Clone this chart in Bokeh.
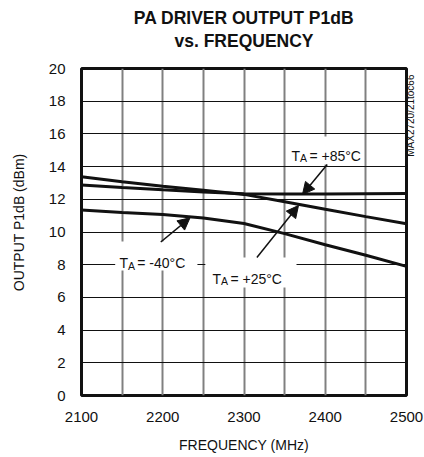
import math
from bokeh.plotting import figure
from bokeh.models import (Range1d, FixedTicker, Label, Arrow, NormalHead,
                          BoxAnnotation, ColumnDataSource, LinearAxis)
from bokeh.embed import file_html
from bokeh.resources import INLINE

# ---------------- data ----------------
freq_mhz = [2100, 2150, 2200, 2250, 2300, 2350, 2400, 2450, 2500]
p1db_m40 = [11.35, 11.20, 11.07, 10.85, 10.52, 9.90, 9.22, 8.58, 7.90]
p1db_p25 = [13.38, 13.08, 12.80, 12.55, 12.30, 11.85, 11.39, 10.94, 10.50]
p1db_p85 = [12.87, 12.72, 12.58, 12.45, 12.34, 12.32, 12.33, 12.34, 12.35]

x_ticks = [2100, 2200, 2300, 2400, 2500]
x_grid = [2150, 2200, 2250, 2300, 2350, 2400, 2450]
y_ticks = [0, 2, 4, 6, 8, 10, 12, 14, 16, 18, 20]
y_grid = [2, 4, 6, 8, 10, 12, 14, 16, 18]

title_1 = "PA DRIVER OUTPUT P1dB"
title_2 = "vs. FREQUENCY"
x_title = "FREQUENCY (MHz)"
y_title = "OUTPUT P1dB (dBm)"
side_note = "MAX2720/21toc66"

FONT = "Liberation Sans"
INK = "#111111"

# ---------------- layout ----------------
W, H = 424, 457
BL, BR, BT = 80, 16, 68
FRAME_H = 327
BB = H - BT - FRAME_H
FW = W - BL - BR
XS = FW / 400.0
YS = FRAME_H / 20.0


def dx(px):
    return 2100 + (px - BL) / XS


def dy(py):
    return (BT + FRAME_H - py) / YS


p = figure(width=W, height=H, output_backend="svg", toolbar_location=None,
           x_range=Range1d(2100, 2500), y_range=Range1d(0, 20),
           min_border_left=BL, min_border_right=BR, min_border_top=BT,
           min_border_bottom=BB)
p.background_fill_color = "white"
p.border_fill_color = "white"
p.outline_line_color = INK
p.outline_line_width = 3


def plain_axis(ax, size):
    ax.axis_line_color = None
    ax.major_tick_line_color = None
    ax.minor_tick_line_color = None
    ax.major_tick_in = 0
    ax.major_tick_out = 0
    ax.major_label_text_font = FONT
    ax.major_label_text_font_size = size
    ax.major_label_text_color = INK
    ax.axis_label_text_font = FONT
    ax.axis_label_text_font_size = "14px"
    ax.axis_label_text_font_style = "normal"
    ax.axis_label_text_color = INK


plain_axis(p.xaxis[0], "15px")
plain_axis(p.yaxis[0], "15px")

p.xaxis.ticker = FixedTicker(ticks=x_ticks)
p.yaxis.ticker = FixedTicker(ticks=y_ticks)
p.xaxis.major_label_standoff = 16
p.yaxis.major_label_standoff = 16
p.xaxis.axis_label = x_title
p.xaxis.axis_label_standoff = 12

# y-axis title as a single vertical label on an extra left axis
# (label end sits at the tick value)
Y_TITLE_AT = 14.8
ytitle_axis = LinearAxis(ticker=FixedTicker(ticks=[Y_TITLE_AT]),
                         major_label_overrides={Y_TITLE_AT: y_title},
                         major_label_orientation=math.pi / 2,
                         major_label_standoff=26)
plain_axis(ytitle_axis, "14px")
p.add_layout(ytitle_axis, "left")

# side note as a single vertical label on a right axis
# (label start sits at the tick value)
SIDE_AT = 14.6
side_axis = LinearAxis(ticker=FixedTicker(ticks=[SIDE_AT]),
                       major_label_overrides={SIDE_AT: side_note},
                       major_label_orientation=math.pi / 2,
                       major_label_standoff=4)
plain_axis(side_axis, "10px")
p.add_layout(side_axis, "right")

# two-line chart title as single centred labels on two stacked top axes
TITLE_AT = 2300
for text, standoff in ((title_2, 18), (title_1, 0)):
    t_axis = LinearAxis(ticker=FixedTicker(ticks=[TITLE_AT]),
                        major_label_overrides={TITLE_AT: text},
                        major_label_standoff=standoff)
    plain_axis(t_axis, "17.5px")
    t_axis.major_label_text_font_style = "bold"
    p.add_layout(t_axis, "above")

p.xgrid.ticker = FixedTicker(ticks=x_grid)
p.xgrid.grid_line_color = "#808080"
p.xgrid.grid_line_width = 2
p.ygrid.ticker = FixedTicker(ticks=y_grid)
p.ygrid.grid_line_color = INK
p.ygrid.grid_line_width = 1

# ---------------- curves ----------------
src = ColumnDataSource(dict(f=freq_mhz, m40=p1db_m40, p25=p1db_p25, p85=p1db_p85))
for col in ("m40", "p25", "p85"):
    p.line("f", col, source=src, line_color=INK, line_width=3)

# ---------------- label boxes ----------------
boxes = [(288, 365, 136, 164), (114, 197, 241, 270), (205, 297, 257, 287)]
for l, r, t, b in boxes:
    p.add_layout(BoxAnnotation(left=dx(l), right=dx(r), top=dy(t), bottom=dy(b),
                               fill_color="white", fill_alpha=1.0,
                               line_color=None, level="annotation"))


def t_label(x_left, baseline, rest):
    p.add_layout(Label(x=dx(x_left), y=dy(baseline), text="T", text_font=FONT,
                       text_font_size="14px", text_color=INK,
                       text_align="left", text_baseline="alphabetic"))
    p.add_layout(Label(x=dx(x_left + 8.6), y=dy(baseline + 2.5), text="A",
                       text_font=FONT, text_font_size="10.5px", text_color=INK,
                       text_align="left", text_baseline="alphabetic"))
    p.add_layout(Label(x=dx(x_left + 18.0), y=dy(baseline), text=rest,
                       text_font=FONT, text_font_size="14px", text_color=INK,
                       text_align="left", text_baseline="alphabetic"))


t_label(292, 155, "= +85°C")
t_label(118.3, 262.7, "= -40°C")
t_label(212.3, 278.3, "= +25°C")

# ---------------- arrows ----------------
arrows = [((328, 164), (303, 194)), ((160, 241.5), (189.5, 217.3)),
          ((257, 257), (299, 205))]
for (x0, y0), (x1, y1) in arrows:
    p.add_layout(Arrow(end=NormalHead(size=12, fill_color=INK, line_color=INK,
                                      line_width=1),
                       x_start=dx(x0), y_start=dy(y0), x_end=dx(x1), y_end=dy(y1),
                       line_color=INK, line_width=1.5))

open("out.html", "w").write(file_html(p, INLINE))
